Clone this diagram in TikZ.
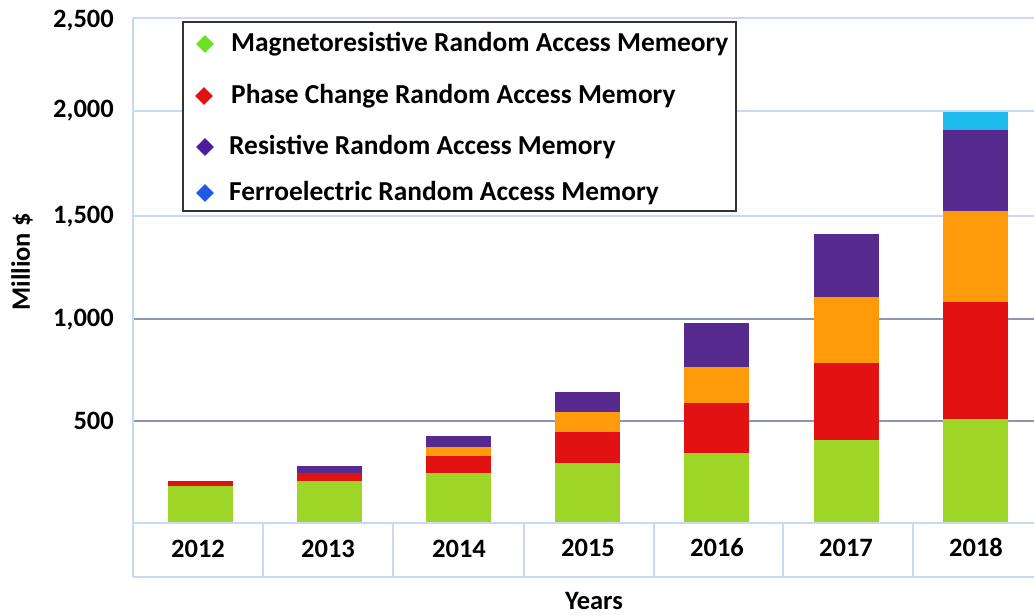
\documentclass[tikz,border=0pt]{standalone}
\usepackage{fontspec}
\setmainfont{Carlito}
\usetikzlibrary{shapes.geometric}
\definecolor{cGreen}{HTML}{9ED628}
\definecolor{cRed}{HTML}{E31212}
\definecolor{cOrange}{HTML}{FF9A0A}
\definecolor{cPurple}{HTML}{562A8E}
\definecolor{cCyan}{HTML}{1EBBEE}
\definecolor{lGreen}{HTML}{6EE022}
\definecolor{lRed}{HTML}{E01212}
\definecolor{lPurple}{HTML}{4B1C9B}
\definecolor{lBlue}{HTML}{1E5AE6}
\definecolor{gridLight}{HTML}{C6DAF2}
\definecolor{gridDark}{HTML}{8C96B2}
\tikzset{
  txt/.style={font=\bfseries\fontsize{26.5}{30}\selectfont, text=black, inner sep=0pt},
  ylab/.style={txt, anchor=east},
  yearlab/.style={txt, font=\bfseries\fontsize{26.5}{30}\selectfont},
  legtxt/.style={txt, font=\bfseries\fontsize{27.4}{30}\selectfont, anchor=west},
  legmark/.style={diamond, minimum size=18pt, inner sep=0pt},
  glight/.style={draw=gridLight, line width=2pt},
  gdark/.style={draw=gridDark, line width=2pt},
  tline/.style={draw=gridLight, line width=1.6pt},
}
\newcommand{\seg}[4]{\fill[#1] (#2,#3) rectangle ++(65,{#4-#3});}
\begin{document}
\begin{tikzpicture}[x=1pt,y=-1pt]
\useasboundingbox (0,0) rectangle (1034,616);
\fill[white] (0,0) rectangle (1034,616);
% gridlines
\draw[glight] (133,18) -- (1034,18);
\draw[glight] (133,111) -- (1034,111);
\draw[glight] (133,216) -- (1034,216);
\draw[gdark] (133,319) -- (1034,319);
\draw[gdark] (133,421) -- (1034,421);
% axis
\draw[glight] (133,18) -- (133,577);
% table
\draw[tline] (133,523) -- (1034,523);
\draw[tline] (133,577) -- (1034,577);
\foreach \xx in {263,393,524,654,783,913} {\draw[tline] (\xx,523) -- (\xx,577);}
% 2012
\seg{cGreen}{168}{522}{486}
\seg{cRed}{168}{486}{481}
% 2013
\seg{cGreen}{297}{522}{481}
\seg{cRed}{297}{481}{473}
\seg{cPurple}{297}{473}{466}
% 2014
\seg{cGreen}{426}{522}{473}
\seg{cRed}{426}{473}{456}
\seg{cOrange}{426}{456}{447}
\seg{cPurple}{426}{447}{436}
% 2015
\seg{cGreen}{555}{522}{463}
\seg{cRed}{555}{463}{432}
\seg{cOrange}{555}{432}{412}
\seg{cPurple}{555}{412}{392}
% 2016
\seg{cGreen}{684}{522}{453}
\seg{cRed}{684}{453}{403}
\seg{cOrange}{684}{403}{367}
\seg{cPurple}{684}{367}{323}
% 2017
\seg{cGreen}{814}{522}{440}
\seg{cRed}{814}{440}{363}
\seg{cOrange}{814}{363}{297}
\seg{cPurple}{814}{297}{234}
% 2018
\seg{cGreen}{943}{522}{419}
\seg{cRed}{943}{419}{302}
\seg{cOrange}{943}{302}{211}
\seg{cPurple}{943}{211}{130}
\seg{cCyan}{943}{130}{112}
% y labels
\node[ylab] (y2500) at (114,21) {2,500};
\node[ylab] (y2000) at (114,111) {2,000};
\node[ylab] (y1500) at (114,217) {1,500};
\node[ylab] (y1000) at (114,320) {1,000};
\node[ylab] (y500) at (114,421) {500};
\node[txt, rotate=90] (ytitle) at (22,262) {Million \$};
% year labels
\node[yearlab] (t2012) at (198,549) {2012};
\node[yearlab] (t2013) at (328,549) {2013};
\node[yearlab] (t2014) at (459,549) {2014};
\node[yearlab] (t2015) at (588,548) {2015};
\node[yearlab] (t2016) at (717,548) {2016};
\node[yearlab] (t2017) at (846,548) {2017};
\node[yearlab] (t2018) at (976,547) {2018};
\node[txt] (xtitle) at (594,601) {Years};
% legend
\draw[draw=black!80, line width=1.3pt, fill=white] (183,22) rectangle (736,211);
\node[legmark, fill=lGreen] (m1) at (205,44) {};
\node[legmark, fill=lRed] (m2) at (204,96) {};
\node[legmark, fill=lPurple] (m3) at (205,147) {};
\node[legmark, fill=lBlue] (m4) at (205,193) {};
\node[legtxt] (l1) at (231,44) {Magnetoresistive Random Access Memeory};
\node[legtxt] (l2) at (231,96) {Phase Change Random Access Memory};
\node[legtxt] (l3) at (229,147) {Resistive Random Access Memory};
\node[legtxt] (l4) at (229,193) {Ferroelectric Random Access Memory};
\end{tikzpicture}
\end{document}
